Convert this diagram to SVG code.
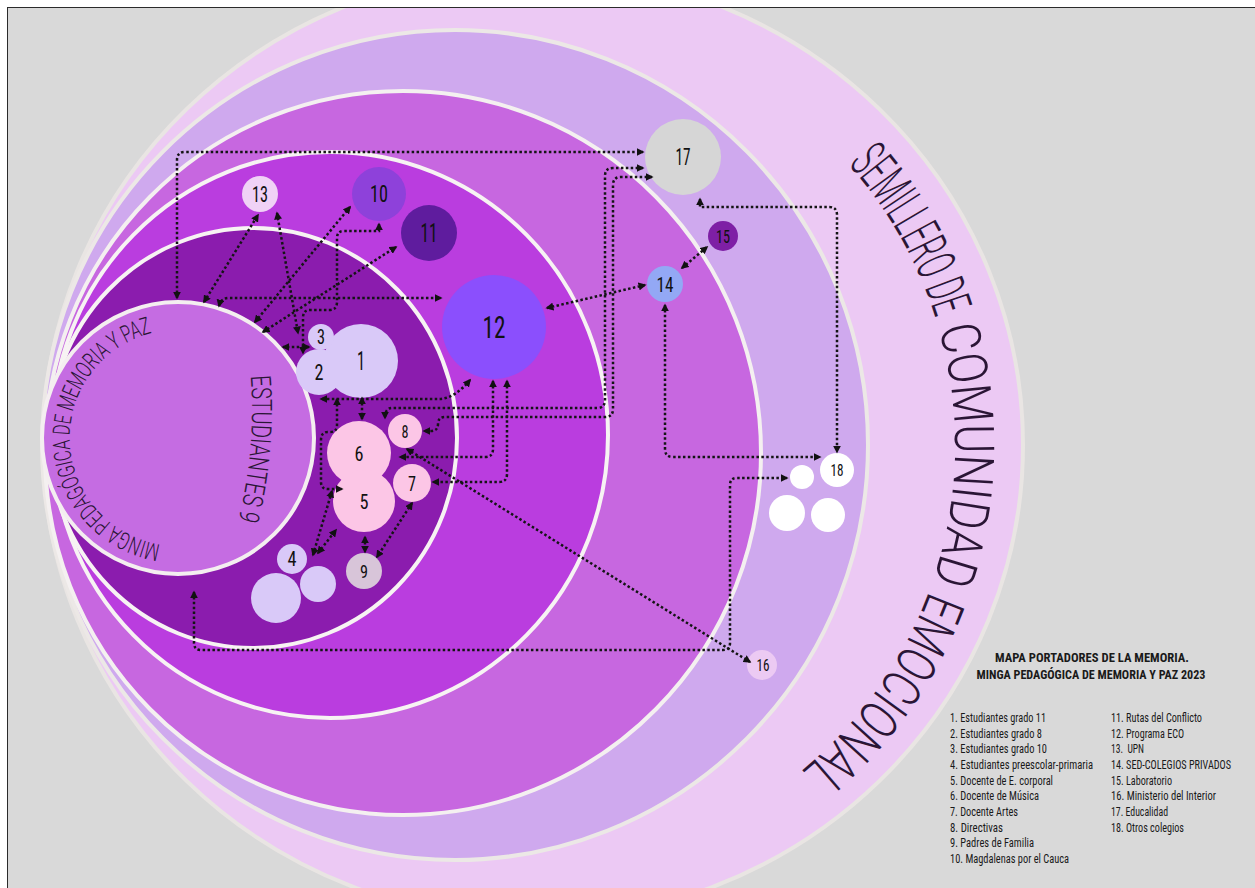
<svg xmlns="http://www.w3.org/2000/svg" width="1255" height="888" viewBox="0 0 1255 888">
<style>
.ring{stroke-width:4}
.lbl{font-family:"Liberation Sans Narrow","Roboto Condensed","DejaVu Sans Condensed","Liberation Sans",sans-serif;fill:#111;text-anchor:middle}
.c{fill:none;stroke:#141414;stroke-width:2.5;stroke-dasharray:2.5 2.4;marker-start:url(#ah);marker-end:url(#ah)}
.arc{font-family:"Roboto","Liberation Sans Narrow","Liberation Sans",sans-serif;font-weight:300;fill:#2a1535}
.leg{font-family:"Liberation Sans Narrow","Roboto Condensed","Liberation Sans",sans-serif;font-size:12px;fill:#1a1a1a}
.ttl{font-family:"Liberation Sans Narrow","Roboto Condensed","Liberation Sans",sans-serif;font-size:13px;font-weight:bold;fill:#1a1a1a;text-anchor:middle}
</style>
<defs>
<marker id="ah" viewBox="0 0 10 10" refX="8" refY="5" markerWidth="8" markerHeight="8" markerUnits="userSpaceOnUse" orient="auto-start-reverse"><path d="M0,0 L10,5 L0,10 z" fill="#111"/></marker>
<clipPath id="frame"><rect x="8" y="8" width="1250" height="884"/></clipPath>
<path id="pMinga" d="M160.6,544.5 A108,108 0 1 1 232,344.5"/>
<path id="pEst" d="M250.7,376.1 A452,452 0 0 1 224.7,564.6"/>
<path id="pSem" d="M848.1,164.3 A422,422 0 0 1 744,810.5"/>
</defs>
<rect x="0" y="0" width="1255" height="888" fill="#ffffff"/>
<rect x="7.5" y="7.5" width="1252" height="886" fill="#d9d9d9" stroke="#2b2b2b" stroke-width="1"/>
<g id="rings" clip-path="url(#frame)">
<ellipse id="e1" class="ring" cx="533" cy="445" rx="490" ry="475" fill="#ecc9f4" stroke="#e9e5e3"/>
<ellipse id="e2" class="ring" cx="455" cy="445" rx="413" ry="415" fill="#cfa9ee" stroke="#ece8e6"/>
<ellipse id="e3" class="ring" cx="403" cy="453" rx="358" ry="362" fill="#c767e0" stroke="#f4f0f0"/>
<ellipse id="e4" class="ring" cx="330" cy="435" rx="278" ry="283" fill="#ba3ddf" stroke="#f7f3f3"/>
<ellipse id="e5" class="ring" cx="253" cy="438" rx="204" ry="210" fill="#8b1cae" stroke="#f7f3f3"/>
<circle id="e6" class="ring" cx="178" cy="438" r="136" fill="#c56ce2" stroke="#f4eef0"/>
</g>
<g id="ringlabels">
<text class="arc" font-size="24" font-weight="300"><textPath href="#pMinga" textLength="296" lengthAdjust="spacingAndGlyphs">MINGA PEDAGÓGICA  DE MEMORIA Y PAZ</textPath></text>
<text class="arc" font-size="28"><textPath href="#pEst" textLength="145" lengthAdjust="spacingAndGlyphs">ESTUDIANTES 9</textPath></text>
<text class="arc" font-size="55"><textPath href="#pSem" textLength="178" lengthAdjust="spacingAndGlyphs">SEMILLERO DE</textPath></text>
<text class="arc" font-size="55"><textPath href="#pSem" startOffset="189" textLength="256" lengthAdjust="spacingAndGlyphs">COMUNIDAD</textPath></text>
<text class="arc" font-size="55"><textPath href="#pSem" startOffset="456" textLength="84" lengthAdjust="spacingAndGlyphs">EMO</textPath></text>
<text class="arc" font-size="55"><textPath href="#pSem" startOffset="540" textLength="139" lengthAdjust="spacingAndGlyphs">CIONAL</textPath></text>
</g>
<g id="n17"><circle cx="683" cy="157" r="38" fill="#d6d6d6"/><text class="lbl" x="683" y="165" font-size="23" textLength="15" lengthAdjust="spacingAndGlyphs">17</text></g>
<g id="n13"><circle cx="260" cy="194" r="18" fill="#f0d2f6"/><text class="lbl" x="260" y="202" font-size="22" textLength="16" lengthAdjust="spacingAndGlyphs">13</text></g>
<g id="n10"><circle cx="379" cy="194" r="27" fill="#8e41da"/><text class="lbl" x="379" y="202" font-size="23" textLength="18" lengthAdjust="spacingAndGlyphs">10</text></g>
<g id="n11"><circle cx="429" cy="233" r="28" fill="#5f1c9e"/><text class="lbl" x="429" y="242" font-size="26" textLength="17" lengthAdjust="spacingAndGlyphs">11</text></g>
<g id="n12"><circle cx="494" cy="327" r="52" fill="#8b4ffd"/><text class="lbl" x="494" y="338" font-size="31" textLength="23" lengthAdjust="spacingAndGlyphs">12</text></g>
<g id="n15"><circle cx="723" cy="236" r="15" fill="#7e1fa5"/><text class="lbl" x="723" y="243" font-size="19" textLength="14" lengthAdjust="spacingAndGlyphs">15</text></g>
<g id="n14"><circle cx="665" cy="284" r="18" fill="#93a8f5"/><text class="lbl" x="665" y="292" font-size="21" textLength="17" lengthAdjust="spacingAndGlyphs">14</text></g>
<g id="n1"><circle cx="361" cy="361" r="37" fill="#d9c9f8"/><text class="lbl" x="361" y="370" font-size="25" textLength="8" lengthAdjust="spacingAndGlyphs">1</text></g>
<g id="n3"><circle cx="321" cy="337" r="13" fill="#d9c9f8"/><text class="lbl" x="321" y="344" font-size="20" textLength="8" lengthAdjust="spacingAndGlyphs">3</text></g>
<g id="n2"><circle cx="319" cy="372" r="23" fill="#d9c9f8"/><text class="lbl" x="319" y="380" font-size="22" textLength="9" lengthAdjust="spacingAndGlyphs">2</text></g>
<g id="n6"><circle cx="359" cy="453" r="32" fill="#fcc6e6"/><text class="lbl" x="359" y="461" font-size="21" textLength="9" lengthAdjust="spacingAndGlyphs">6</text></g>
<g id="n5"><circle cx="364" cy="501" r="31" fill="#fcc6e6"/><text class="lbl" x="364" y="509" font-size="21" textLength="9" lengthAdjust="spacingAndGlyphs">5</text></g>
<g id="n8"><circle cx="405" cy="431" r="17" fill="#fcc6e6"/><text class="lbl" x="405" y="438" font-size="18" textLength="7" lengthAdjust="spacingAndGlyphs">8</text></g>
<g id="n7"><circle cx="412" cy="483" r="19" fill="#fcc6e6"/><text class="lbl" x="412" y="491" font-size="21" textLength="8" lengthAdjust="spacingAndGlyphs">7</text></g>
<g id="n9"><circle cx="364" cy="571" r="18" fill="#d8c5d9"/><text class="lbl" x="364" y="578" font-size="18" textLength="8" lengthAdjust="spacingAndGlyphs">9</text></g>
<g id="n4"><circle cx="318" cy="584" r="18" fill="#d9c9f8"/><circle cx="276" cy="598" r="25" fill="#d9c9f8"/><circle cx="292" cy="559" r="15" fill="#d9c9f8"/><text class="lbl" x="292" y="566" font-size="20" textLength="9" lengthAdjust="spacingAndGlyphs">4</text></g>
<g id="n16"><circle cx="762" cy="665" r="15" fill="#eccaf3"/><text class="lbl" x="763" y="671" font-size="17" textLength="13" lengthAdjust="spacingAndGlyphs">16</text></g>
<g id="n18"><circle cx="802" cy="477" r="12" fill="#ffffff"/><circle cx="787" cy="513" r="18" fill="#ffffff"/><circle cx="828" cy="515" r="17" fill="#ffffff"/><circle cx="837" cy="470" r="17" fill="#ffffff"/><text class="lbl" x="837" y="476" font-size="16" textLength="13" lengthAdjust="spacingAndGlyphs">18</text></g>
<g id="connectors">
<path class="c" d="M177,298 V160 Q177,152 185,152 H643"/>
<path class="c" d="M204,302 L258,215"/>
<path class="c" d="M277,213 L298,333"/>
<path class="c" d="M255,322 L350,207"/>
<path class="c" d="M263,332 L396,247"/>
<path class="c" d="M379,224 V231 H344 Q337,231 337,238 V302 Q337,310 329,310 H310 Q303,310 303,318 V353"/>
<path class="c" d="M309,347 H283"/>
<path class="c" d="M219,306 Q221,298 229,298 H441"/>
<path class="c" d="M547,308 L645,285"/>
<path class="c" d="M682,268 L707,247"/>
<path class="c" d="M700,199 V207 H829 Q837,207 837,215 V452"/>
<path class="c" d="M665,305 V449 Q665,457 673,457 H820"/>
<path class="c" d="M643,168 H613 Q605,168 605,176 V400 Q605,408 597,408 H392 Q385,408 385,418"/>
<path class="c" d="M652,177 H621 Q613,177 613,185 V409 Q613,417 605,417 H445 Q438,417 438,424 Q438,431 431,431 H424"/>
<path class="c" d="M493,381 V449 Q493,457 485,457 H400"/>
<path class="c" d="M507,381 V474 Q507,482 499,482 H433"/>
<path class="c" d="M470,380 Q455,398 440,399 H321"/>
<path class="c" d="M362,398 V419"/>
<path class="c" d="M337,399 V425 Q337,432 330,432 H328 Q321,432 321,440 V482 Q321,489 328,489 H342"/>
<path class="c" d="M313,555 L332,491"/>
<path class="c" d="M318,553 L336,530"/>
<path class="c" d="M365,537 V552"/>
<path class="c" d="M412,503 L377,557"/>
<path class="c" d="M407,449 L750,662"/>
<path class="c" d="M194,592 V643 Q194,650 201,650 H723 Q730,650 730,643 V485 Q730,478 737,478 H787"/>
</g>
<g id="legend">
<text class="ttl" x="1092" y="662" textLength="194" lengthAdjust="spacingAndGlyphs">MAPA PORTADORES DE LA MEMORIA.</text>
<text class="ttl" x="1091" y="679" textLength="229" lengthAdjust="spacingAndGlyphs">MINGA PEDAGÓGICA DE MEMORIA Y PAZ 2023</text>
<text class="leg" x="950" y="722" textLength="96" lengthAdjust="spacingAndGlyphs">1. Estudiantes grado 11</text>
<text class="leg" x="950" y="738" textLength="92" lengthAdjust="spacingAndGlyphs">2. Estudiantes grado 8</text>
<text class="leg" x="950" y="753" textLength="97" lengthAdjust="spacingAndGlyphs">3. Estudiantes grado 10</text>
<text class="leg" x="950" y="769" textLength="143" lengthAdjust="spacingAndGlyphs">4. Estudiantes preescolar-primaria</text>
<text class="leg" x="950" y="785" textLength="103" lengthAdjust="spacingAndGlyphs">5. Docente de E. corporal</text>
<text class="leg" x="950" y="800" textLength="89" lengthAdjust="spacingAndGlyphs">6. Docente de Música</text>
<text class="leg" x="950" y="816" textLength="68" lengthAdjust="spacingAndGlyphs">7. Docente Artes</text>
<text class="leg" x="950" y="832" textLength="53" lengthAdjust="spacingAndGlyphs">8. Directivas</text>
<text class="leg" x="950" y="847" textLength="84" lengthAdjust="spacingAndGlyphs">9. Padres de Familia</text>
<text class="leg" x="950" y="863" textLength="119" lengthAdjust="spacingAndGlyphs">10. Magdalenas por el Cauca</text>
<text class="leg" x="1111" y="722" textLength="91" lengthAdjust="spacingAndGlyphs">11. Rutas del Conflicto</text>
<text class="leg" x="1111" y="738" textLength="73" lengthAdjust="spacingAndGlyphs">12. Programa ECO</text>
<text class="leg" x="1111" y="753" textLength="33" lengthAdjust="spacingAndGlyphs" xml:space="preserve">13.  UPN</text>
<text class="leg" x="1111" y="769" textLength="120" lengthAdjust="spacingAndGlyphs">14. SED-COLEGIOS PRIVADOS</text>
<text class="leg" x="1111" y="785" textLength="61" lengthAdjust="spacingAndGlyphs">15. Laboratorio</text>
<text class="leg" x="1111" y="800" textLength="105" lengthAdjust="spacingAndGlyphs">16. Ministerio del Interior</text>
<text class="leg" x="1111" y="816" textLength="57" lengthAdjust="spacingAndGlyphs">17. Educalidad</text>
<text class="leg" x="1111" y="832" textLength="73" lengthAdjust="spacingAndGlyphs">18. Otros colegios</text>
</g>
</svg>
